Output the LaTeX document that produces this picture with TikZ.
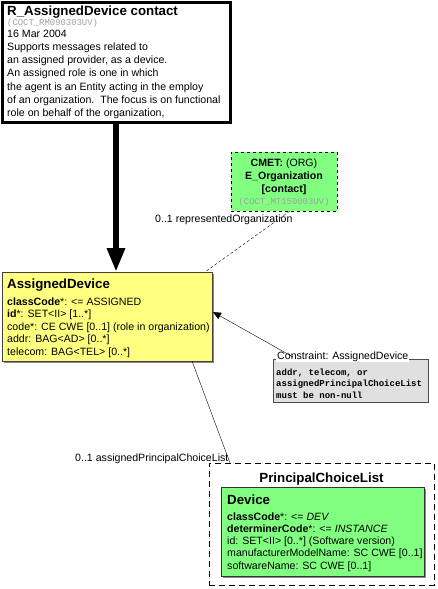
\documentclass[tikz,border=0pt]{standalone}
\usepackage{fontspec}
\setmainfont{Liberation Sans}
\newfontfamily\monof{Liberation Mono}
\usetikzlibrary{arrows.meta,calc}
\definecolor{adyellow}{HTML}{FFFF80}
\definecolor{cmetgreen}{HTML}{80FF80}
\definecolor{codegray}{HTML}{A0A0A0}
\definecolor{consgray}{HTML}{E0E0E0}
\tikzset{
  box/.style={draw, anchor=north west, inner sep=0pt, outer sep=0pt},
  txt/.style={anchor=base west, inner sep=0pt, align=left},
  body/.style={font=\fontsize{10.6}{12.5}\selectfont},
  ttl/.style={font=\bfseries\fontsize{13.3}{15}\selectfont},
  code/.style={font=\monof\fontsize{8.9}{10}\selectfont, text=codegray},
  shadow/.style={fill=black!45, draw=none},
}
\begin{document}
\begin{tikzpicture}[x=1pt,y=-1pt]
\useasboundingbox (0,0) rectangle (437,589);
% top box
\node[box, line width=3pt, fill=white, minimum width=228pt, minimum height=120pt] (ctx) at (2,2) {};
\node[txt, ttl] (ctxtitle) at (7,15) {R\_AssignedDevice contact};
\node[txt, code] (ctxcode) at (7,25) {(COCT\_RM090303UV)};
% multi-line nodes: base anchor = baseline of the last line
\node[txt, font=\fontsize{10.6}{13.3}\selectfont] (ctxbody) at (7,116.8) {16 Mar 2004\\Supports messages related to\\an assigned provider, as a device.\\An assigned role is one in which\\the agent is an Entity acting in the employ\\of an organization.\ \ The focus is on functional\\role on behalf of the organization,};
% AssignedDevice
\fill[shadow] (4,274) rectangle (214,363);
\node[box, fill=adyellow, draw=black!75, minimum width=210pt, minimum height=89pt] (ad) at (2,272) {};
\node[txt, ttl] (adtitle) at (7,288) {AssignedDevice};
\node[txt, body] (adbody) at (7,355) {\textbf{classCode}*: <= ASSIGNED\\\textbf{id}*: SET<II> [1..*]\\code*: CE CWE [0..1] (role in organization)\\addr: BAG<AD> [0..*]\\telecom: BAG<TEL> [0..*]};
% CMET
\node[box, dashed, fill=cmetgreen, minimum width=106pt, minimum height=59pt] (cmet) at (231,152) {};
\node[anchor=base, align=center, inner sep=0pt, font=\fontsize{10.6}{13}\selectfont] (cmettxt) at (284,192) {\textbf{CMET:} (ORG)\\\textbf{E\_Organization}\\\textbf{[contact]}};
\node[anchor=base, inner sep=0pt, code] (cmetcode) at (284,204) {(COCT\_MT150003UV)};
% constraint
\node[box, fill=consgray, draw=black!70, minimum width=155pt, minimum height=43pt] (cons) at (273,359) {};
\node[anchor=base west, inner sep=1pt, fill=white, body] (conslbl) at (276,359) {Constraint: AssignedDevice};
\node[txt, font=\monof\bfseries\fontsize{9}{11.5}\selectfont] (constxt) at (276,398) {addr, telecom, or\\assignedPrincipalChoiceList\\must be non-null};
% PrincipalChoiceList
\node[box, dash pattern=on 6pt off 4pt, minimum width=225pt, minimum height=122pt] (pcl) at (209,463) {};
\node[anchor=base, inner sep=0pt, ttl] (pcltitle) at (321.5,482) {PrincipalChoiceList};
\fill[shadow] (223,489) rectangle (426,578);
\node[box, fill=cmetgreen, draw=black!80, minimum width=203pt, minimum height=89pt] (dev) at (221,487) {};
\node[txt, ttl] (devtitle) at (227,504) {Device};
\node[txt, font=\fontsize{10.6}{12.3}\selectfont] (devbody) at (227,569.2) {\textbf{classCode}*: <= \textit{DEV}\\\textbf{determinerCode}*: <= \textit{INSTANCE}\\id: SET<II> [0..*] (Software version)\\manufacturerModelName: SC CWE [0..1]\\softwareName: SC CWE [0..1]};
% connectors
\draw[line width=6pt, -{Triangle[length=24pt,width=17pt]}] (ctx.south) -- (ctx.south |- ad.north);
\draw[dash pattern=on 3pt off 2pt] ($(cmet.south)+(6,0)$) -- ($(ad.north east)+(-7,0)$);
\draw[-{Triangle[length=8pt,width=7pt]}] ($(cons.north west)+(20,-2)$) -- ($(ad.east)+(1,-4.5)$);
\draw ($(ad.south east)+(-20,0)$) -- ($(pcl.north west)+(21,0)$);
% labels
\node[txt, body] (lblorg) at (155,222) {0..1 representedOrganization};
\node[txt, body] (lblpcl) at (75,461) {0..1 assignedPrincipalChoiceList};
\end{tikzpicture}
\end{document}
